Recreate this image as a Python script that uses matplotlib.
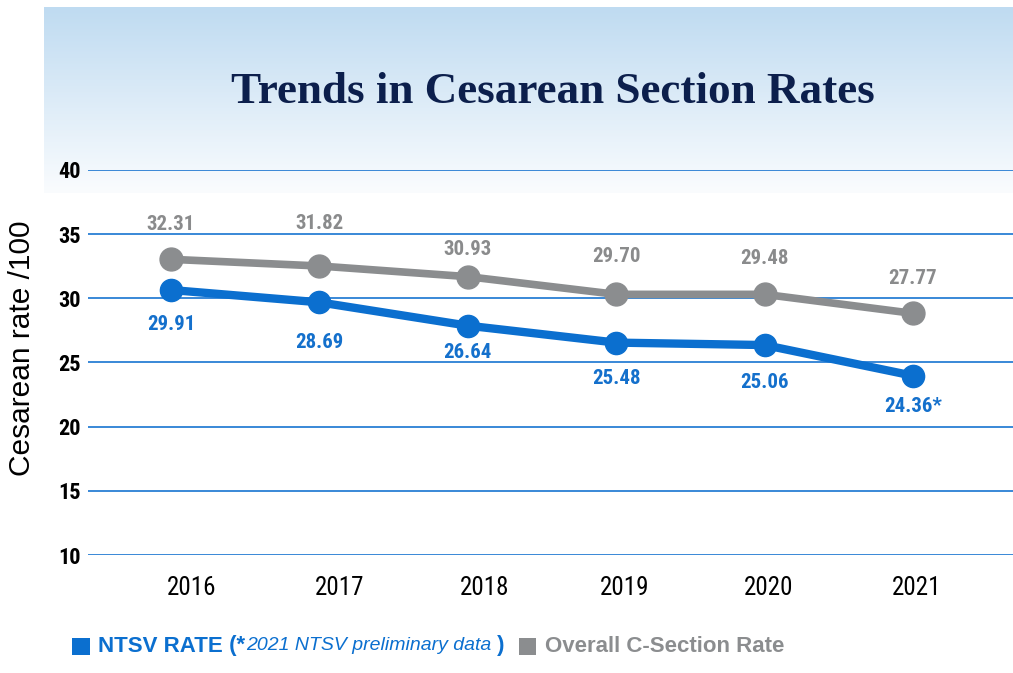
import matplotlib
matplotlib.use("Agg")
import matplotlib.pyplot as plt
import matplotlib.transforms as mtransforms
from matplotlib import font_manager
import numpy as np

# ---- data ----
years = ["2016", "2017", "2018", "2019", "2020", "2021"]
ntsv_values = [30.65, 29.69, 27.87, 26.55, 26.36, 23.97]          # plotted positions
ntsv_labels = ["29.91", "28.69", "26.64", "25.48", "25.06", "24.36*"]
overall_values = [33.04, 32.52, 31.69, 30.31, 30.31, 28.83]
overall_labels = ["32.31", "31.82", "30.93", "29.70", "29.48", "27.77"]
yticks = [10, 15, 20, 25, 30, 35, 40]

# ---- styling (label offsets in pixels) ----
overall_dy = [35, 42, 27, 38, 36, 35]
ntsv_dy = [-35, -40, -27, -36, -37, -31]
year_dx = [21, 20, 17, 8, 4, 4]

available = {f.name for f in font_manager.fontManager.ttflist}
def pick(*names):
    for n in names:
        if n in available:
            return n
    return "DejaVu Sans"

NARROW = pick("Liberation Sans Narrow", "Arial Narrow", "Roboto Condensed", "Liberation Sans")
SANS = pick("Liberation Sans", "Arial", "DejaVu Sans")
SERIF = pick("Liberation Serif", "DejaVu Serif")

BLUE = "#0b6fcf"
BLUE_TXT = "#1470cc"
GRAY = "#8b8d8f"
GRAY_TXT = "#8a8b8c"
GRID = "#2a7fd4"
NAVY = "#0c1f4c"

W, H = 1013, 673
fig = plt.figure(figsize=(W / 100, H / 100), dpi=100)
fig.patch.set_facecolor("white")

# gradient header box
gx0, gy0, gx1, gy1 = 44, 7, 1013, 193
gax = fig.add_axes([gx0 / W, 1 - gy1 / H, (gx1 - gx0) / W, (gy1 - gy0) / H], zorder=0)
top = np.array([0xbf, 0xdb, 0xf1]) / 255
bot = np.array([0xfa, 0xfc, 0xfe]) / 255
t = np.linspace(0, 1, 256)[:, None]
grad = top[None, :] * (1 - t) + bot[None, :] * t
gax.imshow(grad[:, None, :], aspect="auto", extent=[0, 1, 0, 1])
gax.axis("off")

# main axes
ax_l, ax_r, ax_t, ax_b = 88, 1013, 170, 555
ax = fig.add_axes([ax_l / W, 1 - ax_b / H, (ax_r - ax_l) / W, (ax_b - ax_t) / H], zorder=1)
ax.patch.set_alpha(0)
x = np.arange(len(years))
ax.set_xlim(-0.559, 5.674)
ax.set_ylim(10, 40)
ax.set_yticks(yticks)
ax.set_yticklabels([str(v) for v in yticks], fontfamily=NARROW, fontweight="bold",
                   fontsize=16, color="black")
ax.set_xticks(x)
ax.set_xticklabels(years, fontfamily=NARROW, fontsize=18, color="black")
ax.tick_params(axis="both", length=0)
ax.tick_params(axis="y", pad=5)
ax.tick_params(axis="x", pad=15)
for lbl, dx in zip(ax.get_xticklabels(), year_dx):
    off = mtransforms.ScaledTranslation(dx / 100, 0, fig.dpi_scale_trans)
    lbl.set_transform(lbl.get_transform() + off)
for s in ax.spines.values():
    s.set_visible(False)
ax.yaxis.grid(True, color=GRID, linewidth=1.3)
ax.set_axisbelow(True)

ax.plot(x, overall_values, color=GRAY, linewidth=5.5, marker="o", markersize=16.5,
        solid_capstyle="round", zorder=3, clip_on=False)
ax.plot(x, ntsv_values, color=BLUE, linewidth=6, marker="o", markersize=16,
        solid_capstyle="round", zorder=4, clip_on=False)

for xi, v, s, dy in zip(x, overall_values, overall_labels, overall_dy):
    ax.annotate(s, (xi, v), xytext=(0, dy), textcoords="offset pixels", ha="center",
                va="center", fontfamily=NARROW, fontweight="bold", fontsize=15, color=GRAY_TXT)
for xi, v, s, dy in zip(x, ntsv_values, ntsv_labels, ntsv_dy):
    ax.annotate(s, (xi, v), xytext=(0, dy), textcoords="offset pixels", ha="center",
                va="center", fontfamily=NARROW, fontweight="bold", fontsize=15, color=BLUE_TXT)

fig.text(22 / W, 1 - 348 / H, "Cesarean rate /100", rotation=90, ha="center", va="center",
         fontfamily=SANS, fontsize=21.5, color="black")

# title
fig.text(553 / W, 1 - 92 / H, "Trends in Cesarean Section Rates", ha="center", va="center",
         fontfamily=SERIF, fontweight="bold", fontsize=32.5, color=NAVY, zorder=5)

# legend (manual)
ly = 1 - 646 / H
fig.patches.append(plt.Rectangle((72 / W, 1 - 655 / H), 18 / W, 17 / H, transform=fig.transFigure,
                                 facecolor=BLUE, edgecolor="none"))
t1 = fig.text(98 / W, ly, "NTSV RATE", ha="left", va="center", fontfamily=SANS,
              fontweight="bold", fontsize=16, color=BLUE)
t2 = fig.text(0, 0, " (*", fontfamily=SANS, fontweight="bold", fontsize=16, color=BLUE)
t3 = fig.text(0, 0, "2021 NTSV preliminary data", fontfamily=SANS, fontstyle="italic",
              fontsize=14, color=BLUE)
t4 = fig.text(0, 0, " )", fontfamily=SANS, fontweight="bold", fontsize=16, color=BLUE)
fig.canvas.draw()
r = fig.canvas.get_renderer()

def place_after(prev, txt, gap=0):
    bb = prev.get_window_extent(r)
    txt.set_position(((bb.x1 + gap) / W, ly))
    txt.set_ha("left")
    txt.set_va("center")

place_after(t1, t2)
place_after(t2, t3, 1)
place_after(t3, t4)
fig.canvas.draw()
bb = t4.get_window_extent(r)
sq_x = bb.x1 + 14
fig.patches.append(plt.Rectangle((sq_x / W, 1 - 655 / H), 17 / W, 17 / H, transform=fig.transFigure,
                                 facecolor=GRAY, edgecolor="none"))
fig.text((sq_x + 26) / W, ly, "Overall C-Section Rate", ha="left", va="center", fontfamily=SANS,
         fontweight="bold", fontsize=16, color=GRAY)

fig.savefig("out.png", dpi=100, facecolor="white")
